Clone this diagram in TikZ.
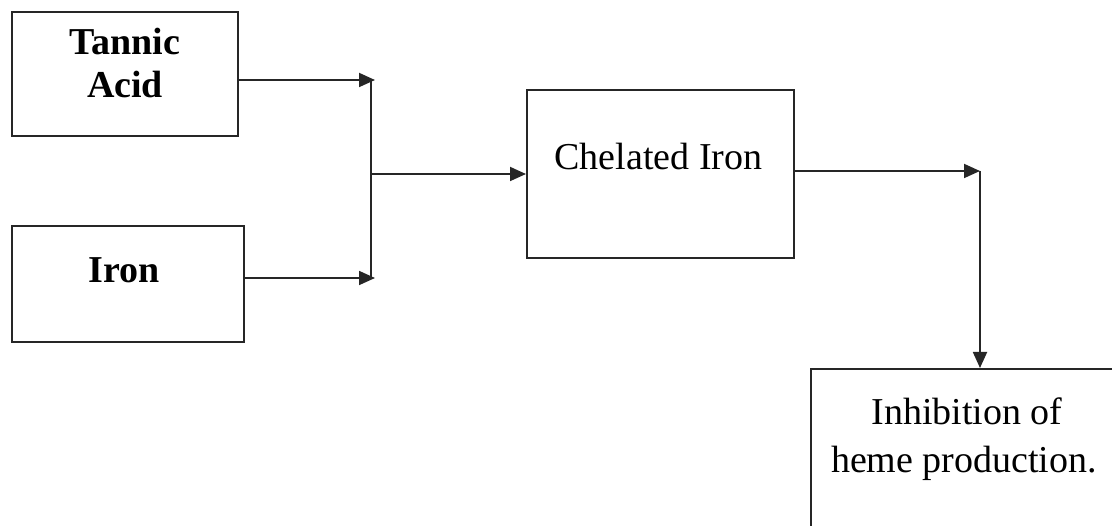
\documentclass[tikz,border=0pt]{standalone}
\usepackage{fontspec}
\setmainfont{Liberation Serif}
\usetikzlibrary{arrows.meta}
\begin{document}
\begin{tikzpicture}[x=1pt,y=-1pt,
  box/.style={draw=black!85, line width=2pt, rectangle, inner sep=0pt},
  lbl/.style={inner sep=0pt, anchor=base, align=center, font=\fontsize{38}{46}\selectfont},
  blbl/.style={lbl, font=\fontsize{38}{44}\selectfont\bfseries},
  conn/.style={draw=black!85, line width=1.8pt},
  arr/.style={conn, -{Triangle[length=16pt,width=14pt]}}]
\clip (0,0) rectangle (1112,526);
\fill[white] (0,0) rectangle (1112,526);
% boxes
\node[box, minimum width=226pt, minimum height=124pt] (ta) at (125,74) {};
\node[box, minimum width=232pt, minimum height=116pt] (ir) at (128,284) {};
\node[box, minimum width=267pt, minimum height=168pt] (ch) at (660.5,174) {};
\node[box, minimum width=320pt, minimum height=200pt, anchor=north west] (inh) at (810,368) {};
% texts
\node[blbl] (t1) at (125,55) {Tannic};
\node[blbl] (t2) at (125,98) {Acid};
\node[blbl] (t3) at (124,283) {Iron};
\node[lbl] (t4) at (658.5,170) {Chelated Iron};
\node[lbl] (t5) at (967,425) {Inhibition of};
\node[lbl] (t6) at (964,473) {heme production.};
% junction coordinates
\coordinate (j1) at (375,80);
\coordinate (j2) at (375,278);
\coordinate (v1) at (371,80);
\coordinate (v2) at (371,278);
\coordinate (vm) at (371,174);
\coordinate (r1) at (980,171);
% connectors
\draw[arr] (ta.east |- j1) -- (j1);
\draw[arr] (ir.east |- j2) -- (j2);
\draw[conn] (v1) -- (v2);
\draw[arr] (vm) -- (ch.west |- vm);
\draw[arr] (ch.east |- r1) -- (r1);
\draw[arr] (r1) -- (r1 |- inh.north);
\end{tikzpicture}
\end{document}
